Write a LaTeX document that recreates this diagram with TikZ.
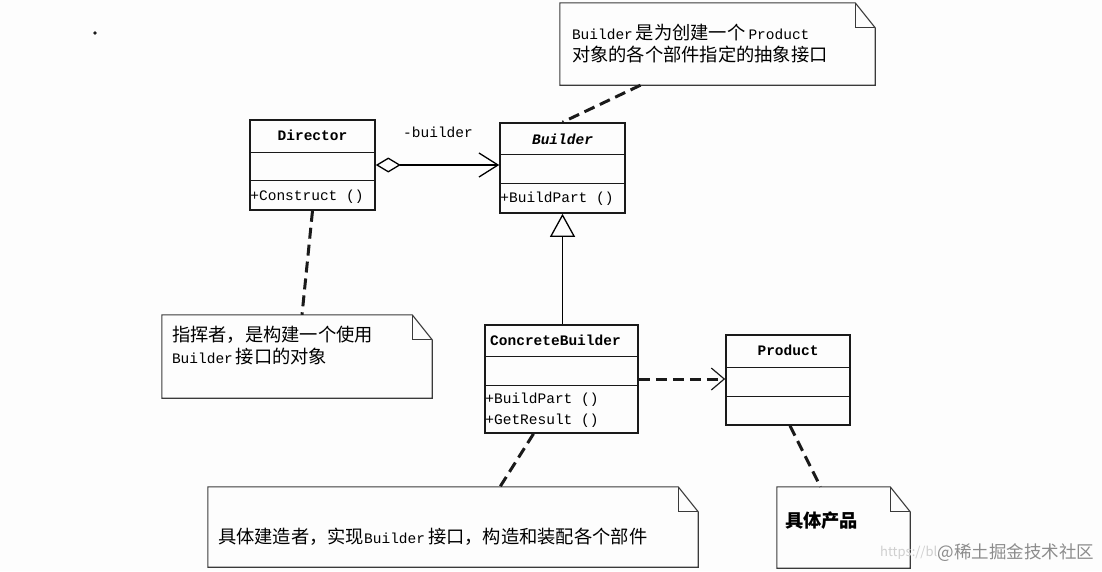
\documentclass[tikz,border=0pt]{standalone}
\usepackage{fontspec}
\setmainfont{Liberation Mono}
\newfontfamily\cjk[Scale=1.26]{Noto Sans CJK SC}
\newfontfamily\wmfont{Noto Sans CJK SC}
\usetikzlibrary{arrows.meta,positioning,calc}
\definecolor{inkblack}{HTML}{1A1A1A}
\definecolor{notegray}{HTML}{3A3A3A}
\definecolor{paper}{HTML}{FDFDFD}
\definecolor{wmgray}{HTML}{8C8C8C}
\definecolor{wmlight}{HTML}{CFCFCF}

\tikzset{
  base/.style={font=\fontsize{14.5pt}{22pt}\selectfont},
  cname/.style={font=\fontsize{14.5pt}{22pt}\selectfont\bfseries},
  cls/.style={draw=inkblack,line width=1.6pt,inner sep=0pt,minimum height=90pt},
  part/.style={inkblack,line width=1.2pt},
  ops/.style={anchor=west,inner sep=0pt,align=left},
  notebox/.style={inner sep=0pt},
  noteline/.style={draw=notegray,line width=1.1pt},
  notetext/.style={anchor=west,inner sep=0pt,align=left},
  link/.style={inkblack,line width=3pt,dash pattern=on 11pt off 6pt}
}

\begin{document}
\begin{tikzpicture}[x=1pt,y=-1pt,every node/.style={base}]

\fill[paper] (0,0) rectangle (1102,571);
\useasboundingbox (0,0) rectangle (1102,571);
\fill[inkblack] (95,33) circle (1.8pt);

% classes
\node[cls,minimum width=125pt] (director) at (312.5,165) {};
\node[cls,minimum width=125pt] (builder) at (562.5,168) {};
\node[cls,minimum width=153pt,minimum height=108pt] (cb) at (561.5,379) {};
\node[cls,minimum width=124pt] (product) at (788,380) {};

\foreach \c/\a/\b in {director/33/61,builder/32/61,cb/32/61,product/33/62}{
  \draw[part] ([yshift=-\a pt]\c.north west) -- ([yshift=-\a pt]\c.north east);
  \draw[part] ([yshift=-\b pt]\c.north west) -- ([yshift=-\b pt]\c.north east);
}

\node[cname] (director-name) at ([yshift=-16pt]director.north) {Director};
\node[cname,font=\fontsize{14.5pt}{22pt}\selectfont\bfseries\itshape] (builder-name) at ([yshift=-17pt]builder.north) {Builder};
\node[cname] (cb-name) at ([xshift=-6pt,yshift=-16pt]cb.north) {ConcreteBuilder};
\node[cname] (product-name) at ([yshift=-16pt]product.north) {Product};

\node[ops] (director-ops) at ([xshift=1pt,yshift=14pt]director.south west) {+Construct ()};
\node[ops] (builder-ops) at ([xshift=1pt,yshift=15pt]builder.south west) {+BuildPart ()};
\node[ops,font=\fontsize{14.5pt}{21pt}\selectfont] (cb-ops) at ([xshift=1pt,yshift=24pt]cb.south west) {+BuildPart ()\\+GetResult ()};

% relations
\draw[line width=1.1pt,{Diamond[open,length=25pt,width=15pt,line width=1.3pt]}-{Straight Barb[length=19pt,width=24pt,line width=1.3pt]}]
  (director.east) -- (director.east -| builder.west);
\node (role-label) at (438,132) {-builder};
\draw[line width=1.1pt,-{Triangle[open,length=23pt,width=25pt,line width=1.3pt]}]
  (cb.north -| builder.south) -- (builder.south);
\draw[link,-{Straight Barb[length=13pt,width=22pt,line width=1.2pt]}]
  (cb.east) -- (cb.east -| product.west);

% notes
\node[notebox,minimum width=315pt,minimum height=82pt] (builder-note) at (717.5,44) {};
\node[notebox,minimum width=270pt,minimum height=83pt] (director-note) at (297,356.5) {};
\node[notebox,minimum width=490pt,minimum height=80pt] (cb-note) at (453,527) {};
\node[notebox,minimum width=133pt,minimum height=81pt] (product-note) at (843.5,527.5) {};

\foreach \n in {builder-note,director-note,cb-note,product-note}{
  \draw[noteline] (\n.north west) -- ([xshift=-20pt]\n.north east)
    -- ([yshift=-25pt]\n.north east) -- (\n.south east) -- (\n.south west) -- cycle;
  \draw[noteline] ([xshift=-20pt]\n.north east) |- ([yshift=-25pt]\n.north east);
}

\node[notetext] (builder-note-text) at ([xshift=12pt]builder-note.west)
  {Builder\hspace{3pt}{\cjk 是为创建一个}\hspace{3pt}Product\\{\cjk 对象的各个部件指定的抽象接口}};
\node[notetext] (director-note-text) at ([xshift=10pt,yshift=11pt]director-note.west)
  {{\cjk 指挥者，是构建一个使用}\\Builder\hspace{3pt}{\cjk 接口的对象}};
\node[notetext] (cb-note-text) at ([xshift=10pt,yshift=-10pt]cb-note.west)
  {{\cjk 具体建造者，实现}Builder\hspace{3pt}{\cjk 接口，构造和装配各个部件}};
\node[notetext] (product-note-text) at ([xshift=8pt,yshift=7pt]product-note.west)
  {{\cjk\bfseries 具体产品}};

\draw[link] ([xshift=-77pt]builder-note.south) -- (builder.north);
\draw[link] (director.south) -- ([xshift=5pt]director-note.north);
\draw[link] ([xshift=-28pt]cb.south) -- ([xshift=47pt]cb-note.north);
\draw[link] ([xshift=2pt]product.south) -- ([xshift=-23pt]product-note.north);

% watermark
\node[anchor=west,inner sep=0pt,text=wmlight,font=\wmfont\fontsize{13pt}{13pt}\selectfont] (wm-url) at (880,553) {https://bl};
\node[right=0pt of wm-url,inner sep=0pt,text=wmgray,font=\wmfont\fontsize{17.5pt}{17.5pt}\selectfont] (wm-site) {@稀土掘金技术社区};

\end{tikzpicture}
\end{document}
